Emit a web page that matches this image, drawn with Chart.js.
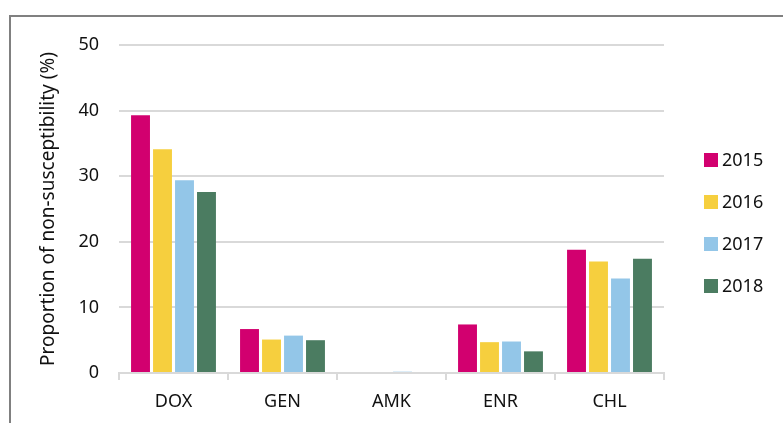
<!DOCTYPE html>
<html>
<head>
<meta charset="utf-8">
<script src="https://cdn.jsdelivr.net/npm/chart.js@4/dist/chart.umd.min.js"></script>
<style>
  html, body { margin: 0; padding: 0; background: #fff; }
  #wrap { position: relative; width: 783px; height: 423px; overflow: hidden; }
  #frame { position: absolute; left: 9px; top: 15px; width: 900px; height: 600px;
           border-top: 2px solid #808080; border-left: 2px solid #808080; }
  canvas { position: absolute; left: 0; top: 0; }
</style>
</head>
<body>
<div id="wrap">
  <div id="frame"></div>
  <canvas id="chart" width="783" height="423"></canvas>
</div>
<script>
// Categories and yearly values
const drugs = ['DOX', 'GEN', 'AMK', 'ENR', 'CHL'];
const years = ['2015', '2016', '2017', '2018'];
const colors = ['#d2006f', '#f6cf3e', '#93c6e8', '#4b7c61'];

const v2015 = [39.3, 6.7, 0, 7.4, 18.8];
const v2016 = [34.1, 5.1, 0, 4.7, 17.0];
const v2017 = [29.4, 5.7, 0.2, 4.8, 14.4];
const v2018 = [27.6, 5.0, 0, 3.3, 17.4];

const yTicks = { min: 0, max: 50, step: 10 };

const series = [v2015, v2016, v2017, v2018];
const FONT = '"Noto Sans", sans-serif';

// simple legend on the right, Excel style
const sideLegend = {
  id: 'sideLegend',
  afterDraw(chart) {
    const c = chart.ctx;
    c.save();
    c.font = '18px ' + FONT;
    c.textBaseline = 'middle';
    chart.data.datasets.forEach((ds, i) => {
      const cy = 160 + i * 42;
      c.fillStyle = ds.backgroundColor;
      c.fillRect(704, cy - 7, 14, 14);
      c.fillStyle = '#111';
      c.fillText(ds.label, 722, cy + 1);
    });
    c.restore();
  }
};

new Chart(document.getElementById('chart'), {
  type: 'bar',
  data: {
    labels: drugs,
    datasets: years.map((y, i) => ({
      label: y,
      data: series[i],
      backgroundColor: colors[i],
      borderWidth: 0,
      categoryPercentage: 0.807,
      barPercentage: 0.86
    }))
  },
  options: {
    responsive: false,
    animation: false,
    layout: { padding: { left: 37, right: 119, top: 45, bottom: 0 } },
    plugins: {
      legend: { display: false },
      tooltip: { enabled: false }
    },
    scales: {
      x: {
        grid: { offset: true, drawOnChartArea: false, drawTicks: true, tickLength: 7,
                color: '#d9d9d9', lineWidth: 2 },
        border: { display: true, color: '#d9d9d9', width: 2 },
        ticks: { color: '#111', font: { family: FONT, size: 18 }, padding: 11 },
        afterFit(s) { s.height = 50; }
      },
      y: {
        min: yTicks.min,
        max: yTicks.max,
        grid: { color: '#d9d9d9', lineWidth: 2, drawTicks: false },
        border: { display: false },
        ticks: { stepSize: yTicks.step, color: '#111', font: { family: FONT, size: 18 }, padding: 20 },
        title: { display: true, text: 'Proportion of non-susceptibility (%)', color: '#111',
                 font: { family: FONT, size: 19 }, padding: 0 },
        afterFit(s) { s.width = 82; }
      }
    }
  },
  plugins: [sideLegend]
});
</script>
</body>
</html>
